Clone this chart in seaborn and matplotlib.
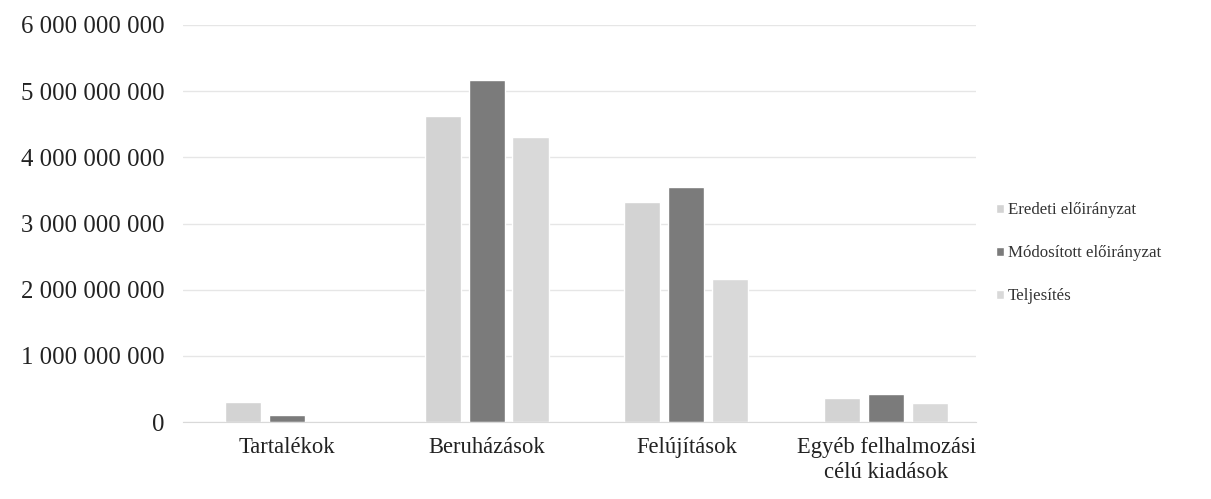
import pandas as pd
import numpy as np
import seaborn as sns
import matplotlib.pyplot as plt
from matplotlib.ticker import FuncFormatter

# Data
categories = ["Tartalékok", "Beruházások", "Felújítások", "Egyéb felhalmozási\ncélú kiadások"]
series = ["Eredeti előirányzat", "Módosított előirányzat", "Teljesítés"]
eredeti = [310_000_000, 4_620_000_000, 3_320_000_000, 360_000_000]
modositott = [110_000_000, 5_170_000_000, 3_550_000_000, 420_000_000]
teljesites = [0, 4_300_000_000, 2_160_000_000, 290_000_000]

df = pd.DataFrame({
    "kategoria": categories * 3,
    "sorozat": [series[0]] * 4 + [series[1]] * 4 + [series[2]] * 4,
    "ertek": eredeti + modositott + teljesites,
})

sns.set_style("white")
plt.rcParams["font.family"] = ["Liberation Serif", "DejaVu Serif"]

fig = plt.figure(figsize=(12.11, 4.99), dpi=100)
ax = fig.add_axes([0.151, 0.154, 0.655, 0.796])

palette = ["#d3d3d3", "#7b7b7b", "#d9d9d9"]
sns.barplot(
    data=df, x="kategoria", y="ertek", hue="sorozat",
    palette=palette, width=0.66, gap=0.18, ax=ax, saturation=1,
    errorbar=None,
)

ax.set_ylim(0, 6_000_000_000)
ax.set_xlim(-0.52, 3.45)
ax.set_yticks(np.arange(0, 6_000_000_001, 1_000_000_000))
ax.yaxis.set_major_formatter(FuncFormatter(lambda v, p: f"{int(v):,}".replace(",", " ")))
ax.grid(axis="y", color="#e6e6e6", linewidth=1)
ax.set_axisbelow(True)
for s in ["top", "right", "left"]:
    ax.spines[s].set_visible(False)
ax.spines["bottom"].set_color("#d9d9d9")
ax.tick_params(axis="y", labelsize=17.8, length=0, pad=13, colors="#222222")
ax.tick_params(axis="x", labelsize=16.3, length=0, pad=11, colors="#222222")
for lbl in ax.get_xticklabels():
    lbl.set_linespacing(1.2)
ax.set_xlabel("")
ax.set_ylabel("")

leg = ax.legend(
    loc="center left", bbox_to_anchor=(1.006, 0.425), frameon=False,
    fontsize=12.2, handlelength=0.45, handleheight=0.45, handletextpad=0.25,
    labelspacing=1.6,
)
for t in leg.get_texts():
    t.set_color("#333333")

plt.savefig("out.png", dpi=100)
